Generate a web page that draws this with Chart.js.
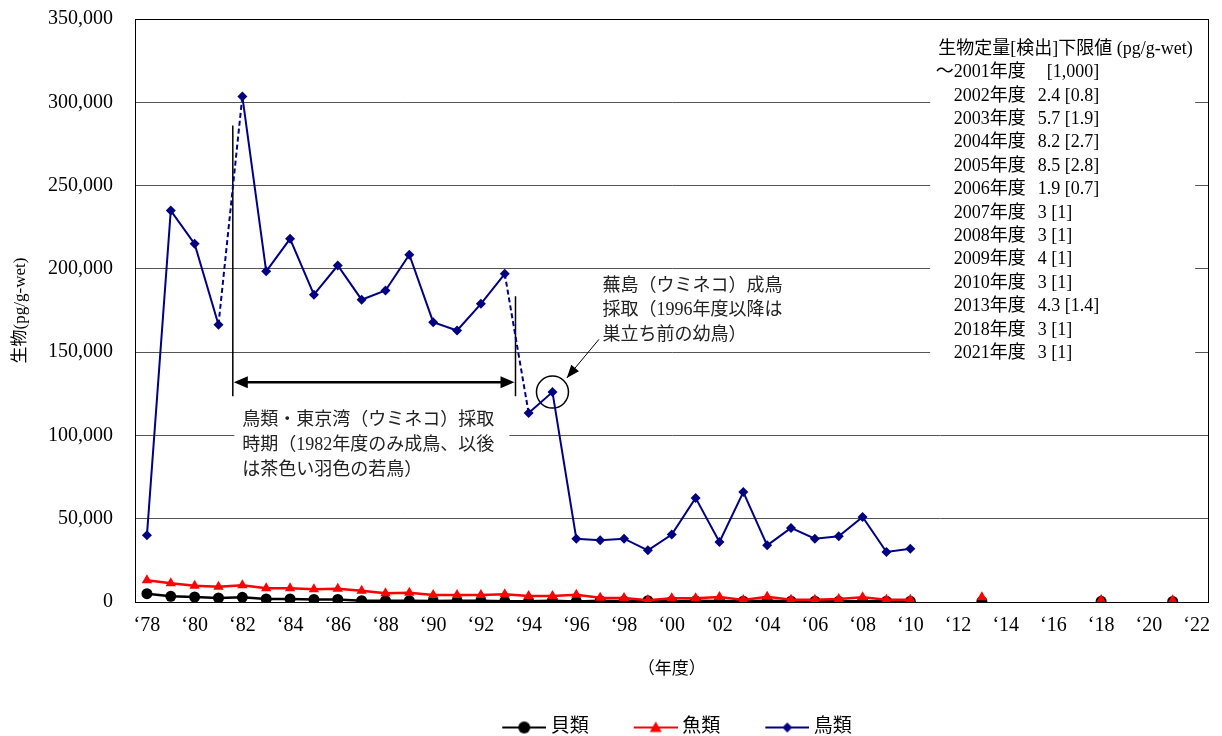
<!DOCTYPE html>
<html lang="ja">
<head>
<meta charset="UTF-8">
<title>生物(pg/g-wet)</title>
<script src="https://cdn.jsdelivr.net/npm/chart.js@4.4.0/dist/chart.umd.min.js"></script>
<style>
  html, body { margin: 0; padding: 0; background: #fff; }
</style>
</head>
<body>
<canvas id="chart" width="1222" height="736"></canvas>
<script>
// fiscal years on the category axis
const years = ['1978', '1979', '1980', '1981', '1982', '1983', '1984', '1985', '1986', '1987',
  '1988', '1989', '1990', '1991', '1992', '1993', '1994', '1995', '1996', '1997',
  '1998', '1999', '2000', '2001', '2002', '2003', '2004', '2005', '2006', '2007',
  '2008', '2009', '2010', '2011', '2012', '2013', '2014', '2015', '2016', '2017',
  '2018', '2019', '2020', '2021', '2022'];

// pg/g-wet (null = no survey)
const shellfish = [5000, 3400, 3000, 2400, 2800, 1800, 1800, 1500, 1500, 800,
  800, 800, 600, 700, 700, 500, 500, 800, 300, 800,
  600, 800, 500, 700, 600, 500, 700, 500, 500, 400,
  500, 500, 400, null, null, 300, null, null, null, null,
  400, null, null, 300, null];
const fish = [13000, 11200, 9800, 9200, 10000, 8200, 8200, 7600, 8000, 6800,
  5200, 5600, 4200, 4200, 4200, 4600, 3600, 3600, 4300, 2500,
  2400, 1000, 2200, 2200, 3000, 1200, 3200, 1300, 1300, 1800,
  2800, 1400, 1400, null, null, 2800, null, null, null, null,
  1200, null, null, 1000, null];
const birds = [40000, 235000, 215000, 166500, 303500, 198500, 218000, 184500, 202000, 181500,
  187000, 208500, 168000, 163000, 179000, 197000, 113500, 126000, 38000, 37000,
  38000, 31000, 40500, 62500, 36000, 66000, 34000, 44500, 38000, 39500,
  51000, 30000, 32000, null, null, null, null, null, null, null,
  null, null, null, null, null];

const yTicks = [0, 50000, 100000, 150000, 200000, 250000, 300000, 350000];

// detection limit table (top right)
const limitTitle = '生物定量[検出]下限値 (pg/g-wet)';
const limitYears = ['～2001年度', '2002年度', '2003年度', '2004年度', '2005年度', '2006年度',
  '2007年度', '2008年度', '2009年度', '2010年度', '2013年度', '2018年度', '2021年度'];
const limitValues = ['\u2002[1,000]', '2.4 [0.8]', '5.7 [1.9]', '8.2 [2.7]', '8.5 [2.8]', '1.9 [0.7]',
  '3 [1]', '3 [1]', '4 [1]', '3 [1]', '4.3 [1.4]', '3 [1]', '3 [1]'];

const noteTokyo = ['鳥類・東京湾（ウミネコ）採取', '時期（1982年度のみ成鳥、以後', 'は茶色い羽色の若鳥）'];
const noteKabu = ['蕪島（ウミネコ）成鳥', '採取（1996年度以降は', '巣立ち前の幼鳥）'];

const FONT = '"Liberation Serif", "Noto Sans CJK JP", serif';
const NAVY = '#000080';

// annotation anchors in data units (year, value)
const pos = {
  spanFrom: 1981.6, spanTo: 1993.45,
  spanTopL: 286000, spanTopR: 183500, spanBottom: 123500, spanArrow: 131900,
  tokyoX: 1982.0, tokyoY: 109000,
  kabuX: 1997.1, kabuY: 189700,
  pointFrom: [1996.95, 157700], pointTo: [1995.6, 134500],
  tableX: 2011.17, tableYearRight: 2014.84, tableValX: 2015.34, tableY: 332000,
  tableBoxL: 2010.83, tableBoxR: 2021.94
};

// legend icon: transparent lead-in, then a short line with the marker
const ICON_BOX = 74;
function legendIcon(color, shape, r) {
  const c = document.createElement('canvas');
  c.width = ICON_BOX + 10; c.height = 16;
  const g = c.getContext('2d');
  const x0 = c.width - 44, cx = x0 + 22;
  g.strokeStyle = color; g.fillStyle = color; g.lineWidth = 2;
  g.beginPath(); g.moveTo(x0, 8); g.lineTo(c.width, 8); g.stroke();
  g.beginPath();
  if (shape === 'circle') {
    g.arc(cx, 8, r, 0, Math.PI * 2);
  } else if (shape === 'triangle') {
    g.moveTo(cx, 8 - r); g.lineTo(cx + r, 8 + r * 0.75); g.lineTo(cx - r, 8 + r * 0.75);
  } else {
    g.moveTo(cx, 8 - r); g.lineTo(cx + r, 8); g.lineTo(cx, 8 + r); g.lineTo(cx - r, 8);
  }
  g.closePath(); g.fill();
  return c;
}
const icons = [legendIcon('#000', 'circle', 6), legendIcon('#ff0000', 'triangle', 6), legendIcon(NAVY, 'diamond', 5)];

function arrowHead(ctx, x1, y1, x2, y2, len, half) {
  const a = Math.atan2(y2 - y1, x2 - x1);
  ctx.beginPath();
  ctx.moveTo(x2, y2);
  ctx.lineTo(x2 - len * Math.cos(a) + half * Math.sin(a), y2 - len * Math.sin(a) - half * Math.cos(a));
  ctx.lineTo(x2 - len * Math.cos(a) - half * Math.sin(a), y2 - len * Math.sin(a) + half * Math.cos(a));
  ctx.closePath();
  ctx.fill();
}

const notes = {
  id: 'notes',
  afterLayout(chart) {
    // nudge the legend to where the original has it
    const l = chart.legend;
    l.left += 53; l.right += 53;
    l.top += 13; l.bottom += 13;
  },
  beforeDatasetsDraw(chart) {
    const {ctx, chartArea: a, scales: {x, y}} = chart;
    const X = yr => x.getPixelForValue(yr - 1978);
    const Y = v => y.getPixelForValue(v);
    ctx.save();

    // white boxes hiding the grid under the texts
    ctx.fillStyle = '#fff';
    const ty = Y(pos.tableY);
    ctx.fillRect(X(pos.tableBoxL), ty - 16, X(pos.tableBoxR) - X(pos.tableBoxL), 23.4 * 13 + 30);
    const ny = Y(pos.tokyoY);
    ctx.fillRect(X(pos.tokyoX) - 8, ny - 15, 275, 25 * 2 + 30);

    // limits table
    ctx.fillStyle = '#000';
    ctx.font = '18px ' + FONT;
    ctx.textBaseline = 'middle';
    ctx.textAlign = 'left';
    ctx.fillText(limitTitle, X(pos.tableX), ty);
    limitYears.forEach((t, i) => {
      const ry = ty + 23.4 * (i + 1);
      ctx.textAlign = 'right';
      ctx.fillText(t, X(pos.tableYearRight), ry);
      ctx.textAlign = 'left';
      ctx.fillText(limitValues[i], X(pos.tableValX), ry);
    });

    // Tokyo Bay note
    ctx.fillStyle = '#222';
    noteTokyo.forEach((t, i) => ctx.fillText(t, X(pos.tokyoX), ny + 25 * i));
    const ky = Y(pos.kabuY);
    noteKabu.forEach((t, i) => ctx.fillText(t, X(pos.kabuX), ky + 24.5 * i));

    // bracket for the Tokyo Bay sampling period
    ctx.strokeStyle = '#000'; ctx.fillStyle = '#000';
    ctx.lineWidth = 1.5;
    const xl = X(pos.spanFrom), xr = X(pos.spanTo);
    ctx.beginPath();
    ctx.moveTo(xl, Y(pos.spanTopL)); ctx.lineTo(xl, Y(pos.spanBottom));
    ctx.moveTo(xr, Y(pos.spanTopR)); ctx.lineTo(xr, Y(pos.spanBottom));
    ctx.stroke();
    const ay = Y(pos.spanArrow);
    ctx.lineWidth = 2.5;
    ctx.beginPath(); ctx.moveTo(xl + 8, ay); ctx.lineTo(xr - 8, ay); ctx.stroke();
    arrowHead(ctx, xr - 20, ay, xr - 1, ay, 14, 6);
    arrowHead(ctx, xl + 20, ay, xl + 1, ay, 14, 6);

    // circle round the 1995 Kabushima sample and its pointer
    ctx.lineWidth = 1.5;
    ctx.beginPath();
    ctx.arc(X(1995), Y(birds[17]), 16, 0, Math.PI * 2);
    ctx.stroke();
    const p1x = X(pos.pointFrom[0]), p1y = Y(pos.pointFrom[1]);
    const p2x = X(pos.pointTo[0]), p2y = Y(pos.pointTo[1]);
    ctx.lineWidth = 1;
    ctx.beginPath(); ctx.moveTo(p1x, p1y); ctx.lineTo(p2x, p2y); ctx.stroke();
    arrowHead(ctx, p1x, p1y, p2x, p2y, 13, 5);

    // plot frame
    ctx.lineWidth = 1;
    ctx.strokeRect(Math.round(a.left) + 0.5, Math.round(a.top) + 0.5, Math.round(a.right - a.left), Math.round(a.bottom - a.top));
    ctx.restore();
  }
};

new Chart(document.getElementById('chart'), {
  type: 'line',
  data: {
    labels: years,
    datasets: [
      {
        label: '貝類', data: shellfish, order: 2,
        borderColor: '#000', backgroundColor: '#000', borderWidth: 2.5,
        pointStyle: 'circle', pointRadius: 5.5, pointBorderWidth: 0
      },
      {
        label: '魚類', data: fish, order: 1,
        borderColor: '#ff0000', backgroundColor: '#ff0000', borderWidth: 2.5,
        pointStyle: 'triangle', pointRadius: 6, pointBorderWidth: 0
      },
      {
        label: '鳥類', data: birds, order: 0,
        borderColor: NAVY, backgroundColor: NAVY, borderWidth: 2,
        pointStyle: 'rectRot', pointRadius: 5, pointBorderWidth: 0,
        segment: {
          borderDash: c => (c.p0DataIndex === 3 || c.p0DataIndex === 15) ? [5, 3] : undefined
        }
      }
    ]
  },
  options: {
    responsive: false,
    animation: false,
    layout: { padding: { top: 19, right: 9, left: 0, bottom: 2 } },
    plugins: {
      tooltip: { enabled: false },
      legend: {
        position: 'bottom',
        labels: {
          usePointStyle: true,
          pointStyleWidth: ICON_BOX,
          padding: 10,
          color: '#000',
          font: { family: FONT, size: 19 },
          generateLabels: chart => chart.data.datasets.map((ds, i) => ({
            text: ds.label, pointStyle: icons[i], fillStyle: ds.borderColor,
            strokeStyle: ds.borderColor, lineWidth: 0, hidden: false, datasetIndex: i, fontColor: '#000'
          }))
        }
      }
    },
    scales: {
      x: {
        offset: true,
        afterFit: s => { s.height = 93; },
        grid: { display: false, drawTicks: false },
        border: { display: true, color: '#000', width: 1 },
        ticks: {
          autoSkip: false, maxRotation: 0, padding: 12, color: '#000',
          font: { family: FONT, size: 20 },
          callback: (v, i) => (+years[i] % 2 === 0) ? '‘' + years[i].slice(2) : ''
        },
        title: { display: true, text: '（年度）', color: '#000', font: { family: FONT, size: 17 }, padding: { top: 0, bottom: 15 } }
      },
      y: {
        min: 0, max: 350000,
        afterFit: s => { s.width = 135; s.paddingTop = 0; s.paddingBottom = 0; },
        afterBuildTicks: s => { s.ticks = yTicks.map(v => ({ value: v })); },
        grid: { color: '#555', lineWidth: 1, drawTicks: false },
        border: { display: true, color: '#000', width: 1 },
        ticks: {
          padding: 22, color: '#000',
          font: { family: FONT, size: 20 },
          callback: v => v.toLocaleString('en-US')
        },
        title: { display: true, text: '生物(pg/g-wet)', color: '#000', font: { family: FONT, size: 17 }, padding: { top: 10, bottom: 0 } }
      }
    }
  },
  plugins: [notes]
});
</script>
</body>
</html>
